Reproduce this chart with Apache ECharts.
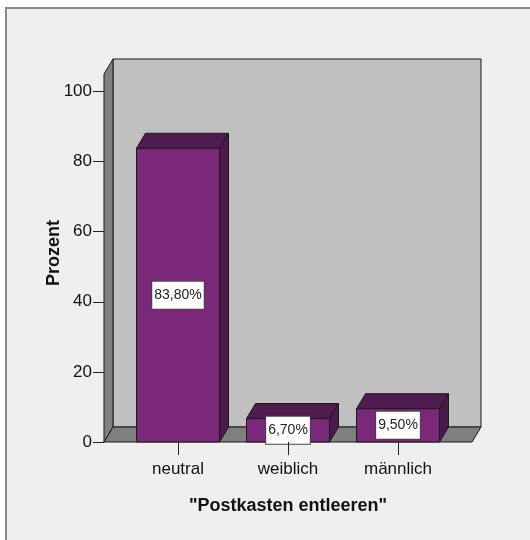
<!DOCTYPE html>
<html>
<head>
<meta charset="utf-8">
<script src="https://cdn.jsdelivr.net/npm/echarts@6/dist/echarts.min.js"></script>
<style>
  html, body { margin: 0; padding: 0; background: #ffffff; }
  #chart { width: 530px; height: 540px; }
</style>
</head>
<body>
<div id="chart"></div>
<script>
// Category labels, percentages and y tick values
const categories = ['neutral', 'weiblich', 'männlich'];
const percentValues = [83.8, 6.7, 9.5];
const yTickValues = [0, 20, 40, 60, 80, 100];

// 3D look: depth offset of back faces, side padding of the floor
const DEPTH_X = 9;
const DEPTH_Y = 15;
const SIDE_PAD = 19;
const BAR_WIDTH = 83;

const FONT = '"Liberation Sans", Arial, sans-serif';

const COLORS = {
  front: '#7b287b',
  top: '#4f1c4f',
  side: '#4a1a4a',
  backWall: '#c0c0c0',
  sideWall: '#808080',
  floor: '#7f7f7f',
  edge: '#1a1a1a'
};

function formatPercent(v) {
  return v.toFixed(2).replace('.', ',') + '%';
}

const chart = echarts.init(document.getElementById('chart'), null, { renderer: 'canvas' });

// Walls and floor of the 3D box, built from the grid rectangle
function renderWalls(params, api) {
  const cs = params.coordSys;
  const top = api.coord([0, 105])[1];
  const base = api.coord([0, 0])[1];
  const left = cs.x - SIDE_PAD;
  const right = cs.x + cs.width + SIDE_PAD;
  const edge = { stroke: COLORS.edge, lineWidth: 1 };
  return {
    type: 'group',
    children: [
      {
        type: 'rect',
        shape: { x: left + DEPTH_X, y: top - DEPTH_Y, width: right - left, height: base - top },
        style: Object.assign({ fill: COLORS.backWall }, edge)
      },
      {
        type: 'polygon',
        shape: { points: [[left, top], [left + DEPTH_X, top - DEPTH_Y], [left + DEPTH_X, base - DEPTH_Y], [left, base]] },
        style: Object.assign({ fill: COLORS.sideWall }, edge)
      },
      {
        type: 'polygon',
        shape: { points: [[left, base], [left + DEPTH_X, base - DEPTH_Y], [right + DEPTH_X, base - DEPTH_Y], [right, base]] },
        style: Object.assign({ fill: COLORS.floor }, edge)
      }
    ]
  };
}

// One 3D bar with front, top and side faces plus its value label
function renderBar(params, api) {
  const idx = api.value(0);
  const val = api.value(1);
  const topPt = api.coord([idx, val]);
  const basePt = api.coord([idx, 0]);
  const midPt = api.coord([idx, val / 2]);
  const x0 = topPt[0] - BAR_WIDTH / 2;
  const x1 = topPt[0] + BAR_WIDTH / 2;
  const yv = topPt[1];
  const y0 = basePt[1];
  const edge = { stroke: COLORS.edge, lineWidth: 1 };
  return {
    type: 'group',
    children: [
      {
        type: 'polygon',
        shape: { points: [[x1, yv], [x1 + DEPTH_X, yv - DEPTH_Y], [x1 + DEPTH_X, y0 - DEPTH_Y], [x1, y0]] },
        style: Object.assign({ fill: COLORS.side }, edge)
      },
      {
        type: 'polygon',
        shape: { points: [[x0, yv], [x0 + DEPTH_X, yv - DEPTH_Y], [x1 + DEPTH_X, yv - DEPTH_Y], [x1, yv]] },
        style: Object.assign({ fill: COLORS.top }, edge)
      },
      {
        type: 'rect',
        shape: { x: x0, y: yv, width: x1 - x0, height: y0 - yv },
        style: Object.assign({ fill: COLORS.front }, edge)
      },
      {
        type: 'text',
        x: midPt[0],
        y: midPt[1],
        style: {
          text: formatPercent(val),
          align: 'center',
          verticalAlign: 'middle',
          fill: '#222222',
          font: '14px ' + FONT,
          lineHeight: 15,
          backgroundColor: '#ffffff',
          borderColor: '#444444',
          borderWidth: 1,
          padding: [6, 2, 6, 2]
        }
      }
    ]
  };
}

const barData = percentValues.map((v, i) => [i, v]);

chart.setOption({
  backgroundColor: '#ffffff',
  animation: false,
  graphic: [
    {
      type: 'rect',
      z: -10,
      shape: { x: 6, y: 8, width: 540, height: 560 },
      style: { fill: '#efefef', stroke: '#8a8a8a', lineWidth: 2 }
    }
  ],
  grid: { left: 123, width: 330, top: 74, bottom: 98 },
  xAxis: {
    type: 'category',
    data: categories,
    boundaryGap: true,
    axisLine: { show: false },
    axisTick: { show: true, alignWithLabel: true, length: 13, lineStyle: { color: '#222222' } },
    axisLabel: {
      margin: 19,
      color: '#111111',
      fontSize: 17,
      fontFamily: FONT
    },
    name: '"Postkasten entleeren"',
    nameLocation: 'middle',
    nameGap: 55,
    nameMoveOverlap: false,
    nameTextStyle: {
      color: '#111111',
      fontSize: 18,
      fontWeight: 'bold',
      fontFamily: FONT
    },
    z: 10
  },
  yAxis: {
    type: 'value',
    min: 0,
    max: 105,
    interval: 20,
    offset: SIDE_PAD,
    axisLine: { show: false },
    splitLine: { show: false },
    axisTick: { show: true, length: 11, customValues: yTickValues, lineStyle: { color: '#222222' } },
    axisLabel: {
      margin: 12,
      customValues: yTickValues,
      color: '#111111',
      fontSize: 17,
      fontFamily: FONT
    },
    name: 'Prozent',
    nameLocation: 'middle',
    nameRotate: 90,
    nameGap: 41,
    nameMoveOverlap: false,
    nameTextStyle: {
      color: '#111111',
      fontSize: 18,
      fontWeight: 'bold',
      fontFamily: FONT,
      padding: [0, 0, 0, 10]
    }
  },
  series: [
    {
      type: 'custom',
      name: 'walls',
      silent: true,
      z: 1,
      renderItem: renderWalls,
      data: [[0, 0]]
    },
    {
      type: 'custom',
      name: 'Prozent',
      silent: true,
      z: 2,
      renderItem: renderBar,
      encode: { x: 0, y: 1 },
      data: barData
    }
  ]
});
</script>
</body>
</html>
